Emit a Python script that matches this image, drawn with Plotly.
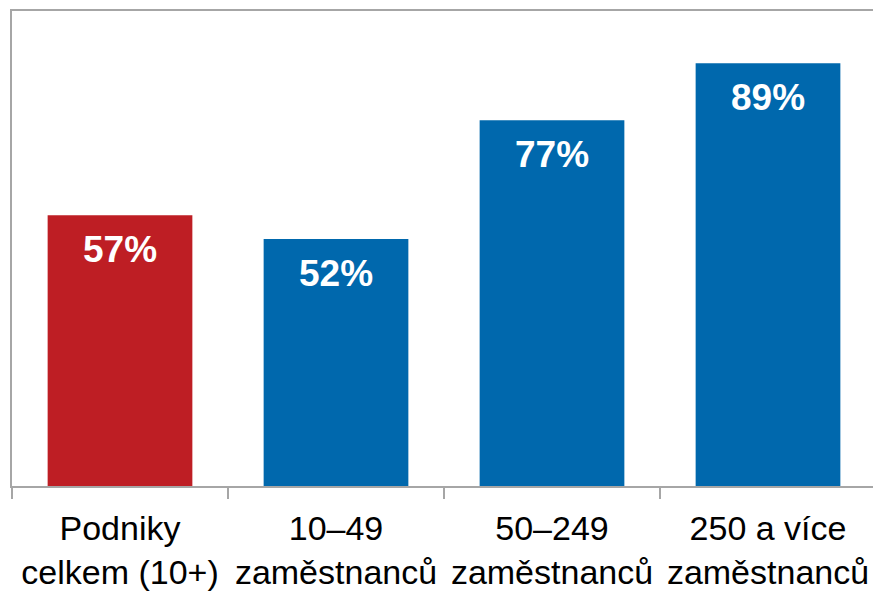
import plotly.graph_objects as go

# kategorie a podíly podniků
kategorie = ["Podniky<br>celkem (10+)", "10–49<br>zaměstnanců", "50–249<br>zaměstnanců", "250 a více<br>zaměstnanců"]
hodnoty = [57, 52, 77, 89]
popisky = ["57%", "52%", "77%", "89%"]
barvy = ["rgb(190,30,36)", "rgb(0,104,173)", "rgb(0,104,173)", "rgb(0,104,173)"]

font_rodina = "Arial, Liberation Sans, sans-serif"
seda = "rgb(166,166,166)"

trace = go.Bar(
    x=kategorie,
    y=hodnoty,
    marker=dict(color=barvy, line=dict(width=0)),
    width=0.67,
    hoverinfo="skip",
)

fig = go.Figure(data=[trace])

# procenta v horní části sloupců
for k, v, p in zip(kategorie, hodnoty, popisky):
    fig.add_annotation(
        x=k, y=v, text="<b>" + p + "</b>",
        showarrow=False, yanchor="middle", yshift=-34,
        font=dict(family=font_rodina, size=37, color="white"),
    )

# stránka má okraj 8 px, proto menší okraje grafu
fig.update_layout(
    width=873, height=585,
    margin=dict(l=4, r=5, t=3, b=107),
    paper_bgcolor="white",
    plot_bgcolor="white",
    showlegend=False,
    bargap=0.33,
    font=dict(family=font_rodina, size=34, color="black"),
    xaxis=dict(
        showline=True, linecolor=seda, linewidth=1.5, mirror=True,
        ticks="outside", tickson="boundaries", ticklen=11, tickcolor=seda, tickwidth=1.5,
        tickangle=0, showgrid=False, automargin=False, ticklabelstandoff=11,
        tickfont=dict(family=font_rodina, size=34, color="black"),
    ),
    yaxis=dict(
        range=[0, 100], showline=True, linecolor=seda, linewidth=1.5, mirror=True,
        showticklabels=False, ticks="", showgrid=False, zeroline=False, automargin=False,
    ),
)

fig.write_html("out.html")
